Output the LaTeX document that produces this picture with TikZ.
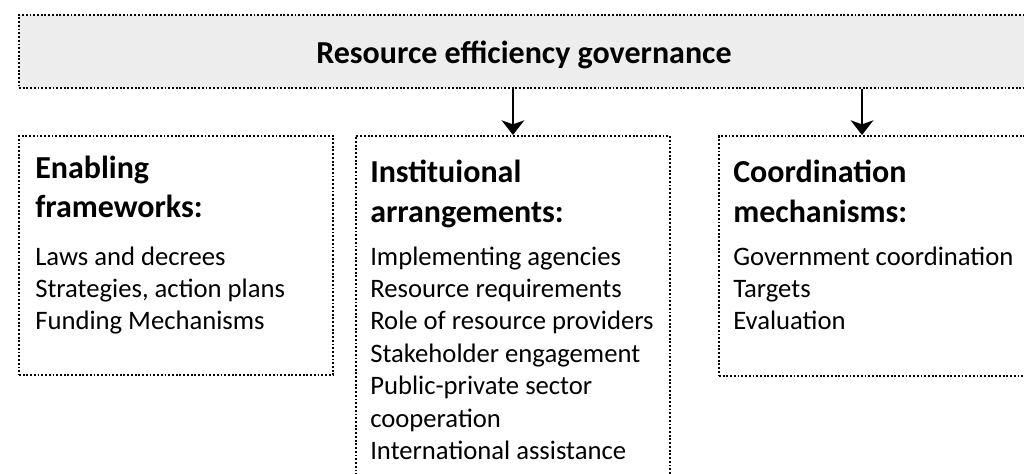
\documentclass[tikz,border=0pt]{standalone}
\usepackage{fontspec}
\setmainfont{Carlito}
\usetikzlibrary{arrows.meta}
\definecolor{boxgray}{RGB}{237,237,237}
\newcommand{\stacklines}[1]{\parbox[t]{300pt}{\raggedright #1}}
\begin{document}
\begin{tikzpicture}[x=0.75pt,y=-0.75pt,
  box/.style={draw=black, line width=1.4pt, dash pattern=on 1.4pt off 1.4pt, inner sep=0pt, anchor=north west},
  titletext/.style={anchor=base, inner sep=0pt, font=\fontsize{24}{29.25}\selectfont\bfseries},
  head/.style={anchor=base west, inner sep=0pt, font=\fontsize{24}{29.25}\selectfont\bfseries},
  body/.style={anchor=base west, inner sep=0pt, font=\fontsize{20}{24.3}\selectfont},
  arr/.style={line width=1.5pt, -{Stealth[length=11pt,width=17pt,inset=3pt]}}]
\useasboundingbox (0,0) rectangle (1024,474);
\clip (0,0) rectangle (1024,474);
% boxes
\node[box, fill=boxgray, minimum width=1030*0.75pt, minimum height=73*0.75pt] (top) at (18,14) {};
\node[box, minimum width=314*0.75pt, minimum height=239*0.75pt] (left) at (18,135) {};
\node[box, minimum width=314*0.75pt, minimum height=360*0.75pt] (mid) at (355,135) {};
\node[box, minimum width=330*0.75pt, minimum height=240*0.75pt] (right) at (718,135) {};
% title
\node[titletext] (title) at (524,64) {Resource efficiency governance};
% texts
\node[head] (lefth) at (35,179) {\stacklines{Enabling\\frameworks:}};
\node[body] (leftb) at (35,265) {\stacklines{Laws and decrees\\Strategies, action plans\\Funding Mechanisms}};
\node[head] (midh) at (370,183) {\stacklines{Instituional\\arrangements:}};
\node[body] (midb) at (370,265) {\stacklines{Implementing agencies\\Resource requirements\\Role of resource providers\\Stakeholder engagement\\Public-private sector\\cooperation\\International assistance}};
\node[head] (righth) at (733,183) {\stacklines{Coordination\\mechanisms:}};
\node[body] (rightb) at (733,265) {\stacklines{Government coordination\\Targets\\Evaluation}};
% arrows
\coordinate (a2) at (862,0);
\draw[arr] (top.south -| mid.north) -- (mid.north);
\draw[arr] (top.south -| a2) -- (right.north -| a2);
\end{tikzpicture}
\end{document}
